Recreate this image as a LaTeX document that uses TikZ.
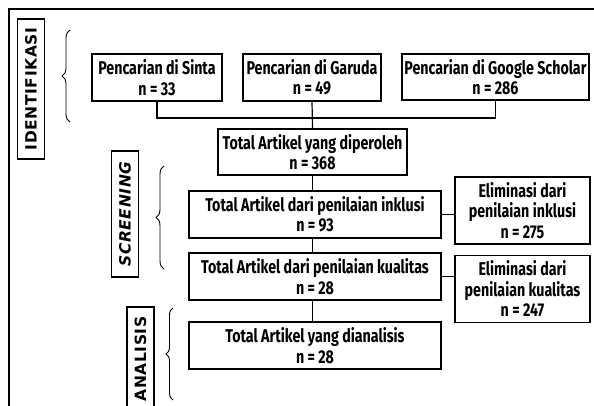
\documentclass[tikz,border=0pt]{standalone}
\usepackage{fontspec}
\usetikzlibrary{decorations.pathreplacing}
\newfontfamily\BoxFont{Fira Sans}[FakeStretch=0.77]
\newfontfamily\SideFont{DejaVu Sans}[LetterSpace=4]
\newcommand{\StageWidth}{1.2pt}

\begin{document}
\begin{tikzpicture}[x=1pt,y=-1pt,line width=\StageWidth,
        box/.style={draw,align=center,inner sep=0pt,
            font=\BoxFont\bfseries\fontsize{18.5}{20.5}\selectfont},
        stage/.style={draw,rotate=90,inner sep=0pt,minimum height=27,
            font=\SideFont\bfseries\fontsize{15.5}{17}\selectfont},
        curly/.style={decorate,line width=0.9pt,
            decoration={brace,amplitude=#1}}]
    \useasboundingbox (0,0) rectangle (594,405);
    \draw[line width=1.6pt] (9,412) -- (9,9) -- (600,9);

    % identifikasi
    \node[stage,minimum width=140] (identifikasi) at (31,89) {IDENTIFIKASI};
    \draw[curly=8] (70,122) -- (70,30);
    \node[box,minimum width=130,minimum height=47] (sinta) at (157,77.5)
        {Pencarian di Sinta\\n = 33};
    \node[box,minimum width=138,minimum height=47] (garuda) at (312,77.5)
        {Pencarian di Garuda\\n = 49};
    \node[box,minimum width=187,minimum height=46] (scholar) at (495.5,77)
        {Pencarian di Google Scholar\\n = 286};
    \node[box,minimum width=189,minimum height=46] (total) at (312.5,152)
        {Total Artikel yang diperoleh\\n = 368};
    \coordinate (join) at (312,118);
    \draw (sinta.south) -- (sinta.south |- join) -| (scholar.south);
    \draw (garuda.south) -- (total.north);

    % screening
    \node[stage,minimum width=126,font=\SideFont\bfseries\itshape\fontsize{15.5}{17}\selectfont]
        (screening) at (125,214) {SCREENING};
    \draw[curly=8] (164,269) -- (164,166);
    \node[box,minimum width=252,minimum height=47] (inklusi) at (315,214.5)
        {Total Artikel dari penilaian inklusi\\n = 93};
    \node[box,minimum width=135,minimum height=67] (elinklusi) at (522.5,210.5)
        {Eliminasi dari\\penilaian inklusi\\n = 275};
    \node[box,minimum width=252,minimum height=47] (kualitas) at (315,276.5)
        {Total Artikel dari penilaian kualitas\\n = 28};
    \node[box,minimum width=135,minimum height=67] (elkualitas) at (522.5,289)
        {Eliminasi dari\\penilaian kualitas\\n = 247};
    \draw (total.south) -- (total.south |- inklusi.north);
    \draw (inklusi.east) -- (elinklusi.west |- inklusi.east);
    \draw (total.south |- inklusi.south) -- (total.south |- kualitas.north);
    \draw (kualitas.east) -- (elkualitas.west |- kualitas.east);

    % analisis
    \node[stage,minimum width=104] (analisis) at (140.5,359) {ANALISIS};
    \draw[curly=7] (173,400) -- (173,308);
    \node[box,minimum width=252,minimum height=47] (dianalisis) at (315,345.5)
        {Total Artikel yang dianalisis\\n = 28};
    \draw (total.south |- kualitas.south) -- (total.south |- dianalisis.north);
\end{tikzpicture}
\end{document}
